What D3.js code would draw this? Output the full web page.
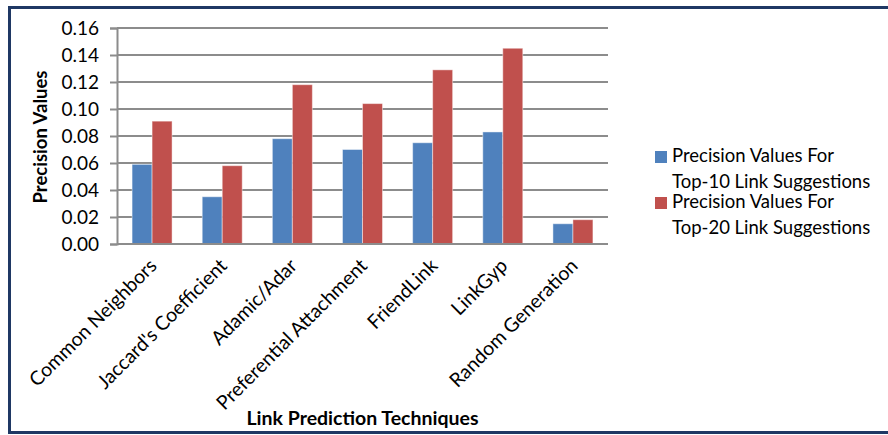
<!DOCTYPE html>
<html lang="en">
<head>
  <meta charset="UTF-8">
  <title>Link Prediction Precision</title>
  <script src="https://d3js.org/d3.v7.min.js"></script>
  <style>
    body { margin: 0; background: #fff; }
    text { font-family: Lato, "Open Sans", sans-serif; fill: #000; }
  </style>
</head>
<body>
  <script>
    const categories = ["Common Neighbors", "Jaccard's Coefficient", "Adamic/Adar",
      "Preferential Attachment", "FriendLink", "LinkGyp", "Random Generation"];
    const top10 = [0.059, 0.035, 0.078, 0.070, 0.075, 0.083, 0.015];
    const top20 = [0.091, 0.058, 0.118, 0.104, 0.129, 0.145, 0.018];
    const seriesNames = [
      ["Precision Values For", "Top-10 Link Suggestions"],
      ["Precision Values For", "Top-20 Link Suggestions"]
    ];
    const colors = ["#4f81bd", "#c0504d"];
    const yTicks = [0, 0.02, 0.04, 0.06, 0.08, 0.10, 0.12, 0.14, 0.16];

    const width = 888, height = 435;
    const svg = d3.select("body").append("svg")
      .attr("width", width)
      .attr("height", height);

    // outer frame
    svg.append("rect")
      .attr("x", 9.5).attr("y", 7.5)
      .attr("width", 890).attr("height", 425)
      .attr("fill", "none")
      .attr("stroke", "#1f3864")
      .attr("stroke-width", 3);

    const plot = { left: 117, right: 608, top: 28, bottom: 244 };

    const x = d3.scaleBand()
      .domain(categories)
      .range([plot.left, plot.right]);

    const xInner = d3.scaleBand()
      .domain([0, 1])
      .range([0, 40]);

    const y = d3.scaleLinear()
      .domain([0, 0.16])
      .range([plot.bottom, plot.top]);

    // gridlines
    svg.append("g")
      .selectAll("line")
      .data(yTicks)
      .join("line")
      .attr("x1", plot.left).attr("x2", plot.right)
      .attr("y1", d => y(d)).attr("y2", d => y(d))
      .attr("stroke", "#8c8c8c")
      .attr("stroke-width", 2);

    // y axis
    const yAxis = svg.append("g")
      .attr("transform", `translate(${plot.left},0)`)
      .call(d3.axisLeft(y).tickValues(yTicks).tickFormat(d3.format(".2f")).tickSize(7).tickPadding(11));
    yAxis.select(".domain").attr("stroke", "#8c8c8c").attr("stroke-width", 2);
    yAxis.selectAll(".tick line").attr("stroke", "#8c8c8c").attr("stroke-width", 2);
    yAxis.selectAll("text").attr("font-size", 19).attr("fill", "#000")
      .style("font-family", "Lato, sans-serif");

    // bars
    const series = [top10, top20];
    series.forEach((vals, si) => {
      svg.append("g")
        .selectAll("rect")
        .data(vals)
        .join("rect")
        .attr("x", (d, i) => x(categories[i]) + x.bandwidth() / 2 - 20 + xInner(si))
        .attr("y", d => y(d))
        .attr("width", xInner.bandwidth())
        .attr("height", d => y(0) - y(d))
        .attr("fill", colors[si])
        .attr("stroke", "#ffffff")
        .attr("stroke-opacity", 0.45)
        .attr("stroke-width", 1);
    });

    // x axis line
    svg.append("line")
      .attr("x1", plot.left).attr("x2", plot.right)
      .attr("y1", plot.bottom).attr("y2", plot.bottom)
      .attr("stroke", "#8c8c8c").attr("stroke-width", 2);

    // x labels
    svg.append("g")
      .selectAll("text")
      .data(categories)
      .join("text")
      .attr("transform", d => `translate(${x(d) + x.bandwidth() / 2 + 6},${plot.bottom + 23}) rotate(-45)`)
      .attr("text-anchor", "end")
      .attr("font-size", 19.5)
      .text(d => d);

    // axis titles
    svg.append("text")
      .attr("transform", `translate(47,${(plot.top + plot.bottom) / 2 + 1}) rotate(-90)`)
      .attr("text-anchor", "middle")
      .attr("font-size", 18.5)
      .attr("font-weight", "bold")
      .text("Precision Values");

    svg.append("text")
      .attr("x", (plot.left + plot.right) / 2)
      .attr("y", 425)
      .attr("text-anchor", "middle")
      .attr("font-size", 19.5)
      .attr("font-weight", "bold")
      .text("Link Prediction Techniques");

    // legend
    const legend = svg.append("g").attr("transform", "translate(655,150)");
    seriesNames.forEach((lines, i) => {
      const g = legend.append("g").attr("transform", `translate(0,${i * 46})`);
      g.append("rect")
        .attr("y", 1)
        .attr("width", 12).attr("height", 12)
        .attr("fill", colors[i]);
      lines.forEach((t, j) => {
        g.append("text")
          .attr("x", 17)
          .attr("y", 12 + j * 26)
          .attr("font-size", 18.5)
          .text(t);
      });
    });
  </script>
</body>
</html>
